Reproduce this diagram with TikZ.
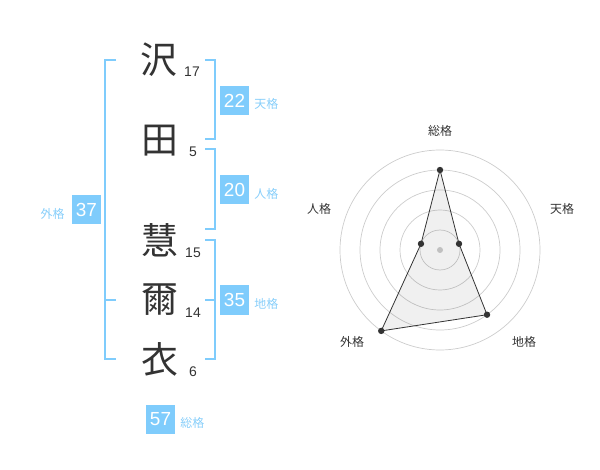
\documentclass[tikz,border=0pt]{standalone}
\usepackage{fontspec}
\setmainfont{Liberation Sans}
\newfontfamily\cjk{Noto Sans CJK JP}
\usepackage{tikz}
\usetikzlibrary{positioning}
\definecolor{kakublue}{RGB}{127,204,252}
\definecolor{kakutext}{RGB}{135,206,250}
\definecolor{inkgray}{RGB}{51,51,51}
\definecolor{ringgray}{RGB}{204,204,204}
\tikzstyle{kanji} = [text=inkgray, font=\cjk\fontsize{37}{37}\selectfont, inner sep=0]
\tikzstyle{strokes} = [text=inkgray, font=\fontsize{14}{14}\selectfont, inner sep=0]
\tikzstyle{kakubox} = [fill=kakublue, text=white, minimum size=29bp, inner sep=0, font=\fontsize{19}{19}\selectfont]
\tikzstyle{kakuname} = [text=kakutext, font=\cjk\fontsize{12}{12}\selectfont, inner sep=0]
\tikzstyle{bracket} = [draw=kakublue, line width=2bp]
\tikzstyle{axisname} = [text=inkgray, font=\cjk\fontsize{12}{12}\selectfont, inner sep=0]
\tikzstyle{ring} = [draw=ringgray, line width=0.7bp]
\tikzstyle{score} = [fill=inkgray]

\begin{document}
\begin{tikzpicture}[x=1bp, y=-1bp]
                    \path[use as bounding box] (0, 0) rectangle (600, 470);
                    % name characters and stroke counts
                    \node[kanji] (sawa) at (159, 60) {沢};
                    \node[kanji] (ta) at (160, 141) {田};
                    \node[kanji] (kei) at (160, 240) {慧};
                    \node[kanji] (ji) at (160, 300) {爾};
                    \node[kanji] (i) at (160, 359) {衣};
                    \node[strokes] (nsawa) at (192, 72) {17};
                    \node[strokes] (nta) at (193, 152) {5};
                    \node[strokes] (nkei) at (193, 253) {15};
                    \node[strokes] (nji) at (193, 313) {14};
                    \node[strokes] (ni) at (193, 372) {6};
                    % brackets
                    \draw[bracket] (116, 60) -- (105, 60) -- (105, 359) -- (116, 359);
                    \draw[bracket] (105, 300) -- (116, 300);
                    \draw[bracket] (205, 60) -- (215, 60) -- (215, 139) -- (205, 139);
                    \draw[bracket] (205, 149) -- (215, 149) -- (215, 229) -- (205, 229);
                    \draw[bracket] (205, 240) -- (215, 240) -- (215, 359) -- (205, 359);
                    \draw[bracket] (205, 300) -- (215, 300);
                    % kaku values
                    \node[kakubox] (ten) at (234.5, 100.5) {22};
                    \node[kakuname, right=5bp of ten, yshift=-3.5bp] (tenname) {天格};
                    \node[kakubox] (jin) at (234.5, 190) {20};
                    \node[kakuname, right=5bp of jin, yshift=-3.5bp] (jinname) {人格};
                    \node[kakubox] (chi) at (234.5, 300) {35};
                    \node[kakuname, right=5bp of chi, yshift=-3.5bp] (chiname) {地格};
                    \node[kakubox] (gai) at (86.5, 210) {37};
                    \node[kakuname, left=7bp of gai, yshift=-3.5bp] (gainame) {外格};
                    \node[kakubox] (sou) at (160.5, 419) {57};
                    \node[kakuname, right=5bp of sou, yshift=-3.5bp] (souname) {総格};
                    % radar chart
                    \begin{scope}[shift={(440, 250)}, y=1bp]
                        \foreach \r in {20, 40, ..., 100}
                            \draw[ring] (0, 0) circle (\r bp);
                        \fill[ringgray] (0, 0) circle (3bp);
                        \coordinate (psou) at (90:80);
                        \coordinate (pten) at (18:20);
                        \coordinate (pchi) at (-54:80);
                        \coordinate (pgai) at (-126:100);
                        \coordinate (pjin) at (162:20);
                        \filldraw[draw=inkgray, fill=black, fill opacity=0.06, line width=0.8bp] (psou) -- (pten) -- (pchi) -- (pgai) -- (pjin) -- cycle;
                        \foreach \p in {psou, pten, pchi, pgai, pjin}
                            \fill[score] (\p) circle (3.2bp);
                    \end{scope}
                    \node[axisname] (asou) at (440, 130.5) {総格};
                    \node[axisname] (aten) at (562, 209) {天格};
                    \node[axisname] (achi) at (524, 341.5) {地格};
                    \node[axisname] (agai) at (352, 341.5) {外格};
                    \node[axisname] (ajin) at (319, 209) {人格};
                \end{tikzpicture}
\end{document}
